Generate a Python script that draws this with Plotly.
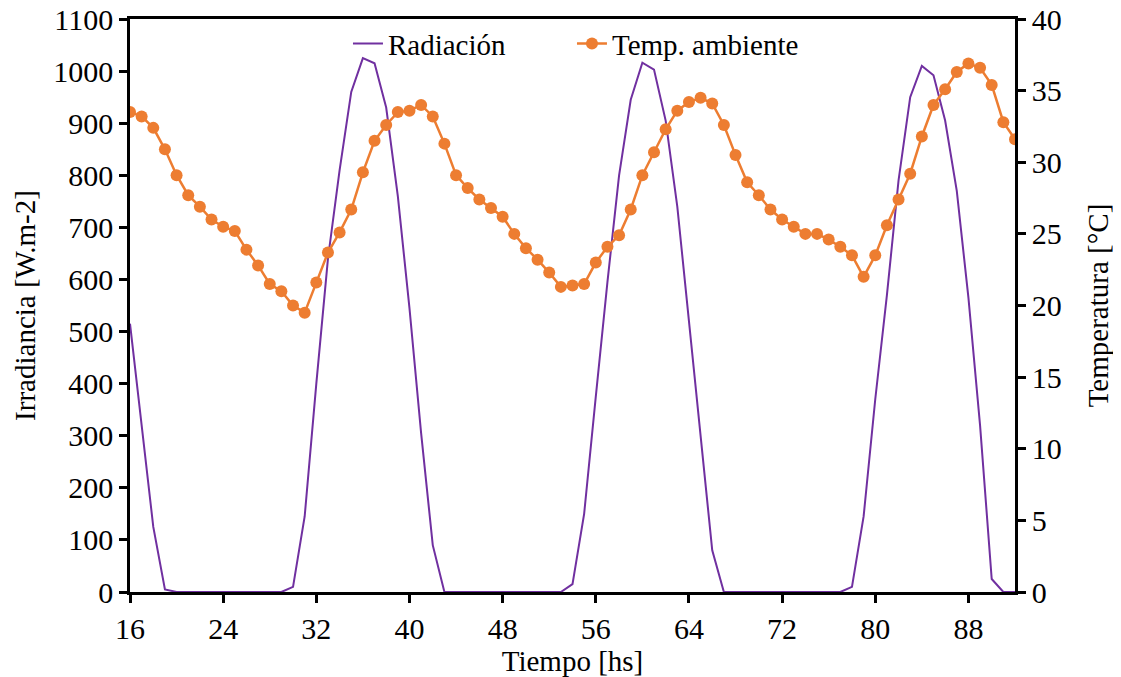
import plotly.graph_objects as go

hours = [16, 17, 18, 19, 20, 21, 22, 23, 24, 25, 26, 27, 28, 29, 30, 31, 32, 33, 34, 35,
         36, 37, 38, 39, 40, 41, 42, 43, 44, 45, 46, 47, 48, 49, 50, 51, 52, 53, 54, 55,
         56, 57, 58, 59, 60, 61, 62, 63, 64, 65, 66, 67, 68, 69, 70, 71, 72, 73, 74, 75,
         76, 77, 78, 79, 80, 81, 82, 83, 84, 85, 86, 87, 88, 89, 90, 91, 92]

radiacion = [515, 320, 125, 5, 0, 0, 0, 0, 0, 0, 0, 0, 0, 0, 10, 145, 400, 640, 810, 960,
             1025, 1015, 930, 760, 545, 305, 90, 0, 0, 0, 0, 0, 0, 0, 0, 0, 0, 0, 15, 150,
             375, 595, 800, 945, 1016, 1003, 905, 740, 520, 305, 80, 0, 0, 0, 0, 0, 0, 0, 0, 0,
             0, 0, 10, 145, 370, 570, 790, 950, 1010, 992, 905, 770, 565, 320, 25, 0, 0]

temp_ambiente = [33.5, 33.2, 32.4, 30.9, 29.1, 27.7, 26.9, 26.0, 25.5, 25.2, 23.9, 22.8, 21.5, 21.0, 20.0, 19.5,
                 21.6, 23.7, 25.1, 26.7, 29.3, 31.5, 32.6, 33.5, 33.6, 34.0, 33.2, 31.3, 29.1, 28.2, 27.4, 26.8,
                 26.2, 25.0, 24.0, 23.2, 22.3, 21.3, 21.4, 21.5, 23.0, 24.1, 24.9, 26.7, 29.1, 30.7, 32.3, 33.6,
                 34.2, 34.5, 34.1, 32.6, 30.5, 28.6, 27.7, 26.7, 26.0, 25.5, 25.0, 25.0, 24.6, 24.1, 23.5, 22.0,
                 23.5, 25.6, 27.4, 29.2, 31.8, 34.0, 35.1, 36.3, 36.9, 36.6, 35.4, 32.8, 31.6]

x_ticks = [16, 24, 32, 40, 48, 56, 64, 72, 80, 88]

PURPLE = "#7030A0"
ORANGE = "#ED7D31"
FONT = "Liberation Serif"
TICK_SIZE = 30
TITLE_SIZE = 29

fig = go.Figure()
fig.add_trace(go.Scatter(x=hours, y=radiacion, name="Radiación", mode="lines",
                         line=dict(color=PURPLE, width=2), yaxis="y", legend="legend"))
fig.add_trace(go.Scatter(x=hours, y=temp_ambiente, name="Temp. ambiente", mode="lines+markers",
                         line=dict(color=ORANGE, width=2.5),
                         marker=dict(color=ORANGE, size=12), yaxis="y2", legend="legend2"))

axis_common = dict(showgrid=False, zeroline=False, linecolor="black", linewidth=2.5, automargin=False,
                   tickcolor="black", tickwidth=2.5, ticklabeloverflow="allow",
                   tickfont=dict(family=FONT, size=TICK_SIZE, color="black"))

legend_common = dict(orientation="h", xanchor="left", y=0.957, yanchor="middle",
                     bgcolor="rgba(0,0,0,0)", font=dict(family=FONT, size=TITLE_SIZE, color="black"))

fig.update_layout(
    width=1113, height=669,
    margin=dict(l=122, r=106, t=11, b=85, autoexpand=False),
    paper_bgcolor="white", plot_bgcolor="white",
    font=dict(family=FONT, size=TITLE_SIZE, color="black"),
    showlegend=True,
    legend=dict(x=0.2463, **legend_common),
    legend2=dict(x=0.4994, **legend_common),
    xaxis=dict(range=[16, 92], tickvals=x_ticks, ticks="outside", ticklen=8,
               showline=True, mirror=True,
               title=dict(text="Tiempo [hs]", font=dict(family=FONT, size=TITLE_SIZE), standoff=4),
               **axis_common),
    yaxis=dict(range=[0, 1100], dtick=100, ticks="outside", ticklen=8, showline=True,
               title=dict(text="Irradiancia [W.m-2]", font=dict(family=FONT, size=TITLE_SIZE), standoff=10),
               **axis_common),
    yaxis2=dict(range=[0, 40], dtick=5, ticks="outside", ticklen=8, showline=True,
                overlaying="y", side="right", anchor="x",
                title=dict(text="Temperatura [°C]", font=dict(family=FONT, size=TITLE_SIZE), standoff=27),
                **axis_common),
    yaxis3=dict(range=[0, 1100], dtick=100, ticks="inside", ticklen=9, showline=False,
                showticklabels=False, overlaying="y", side="left", anchor="x", automargin=False,
                showgrid=False, zeroline=False, tickcolor="black", tickwidth=2.5),
    yaxis4=dict(range=[0, 40], dtick=5, ticks="inside", ticklen=9, showline=False,
                showticklabels=False, overlaying="y", side="right", anchor="x", automargin=False,
                showgrid=False, zeroline=False, tickcolor="black", tickwidth=2.5),
)

fig.write_html("out.html")
